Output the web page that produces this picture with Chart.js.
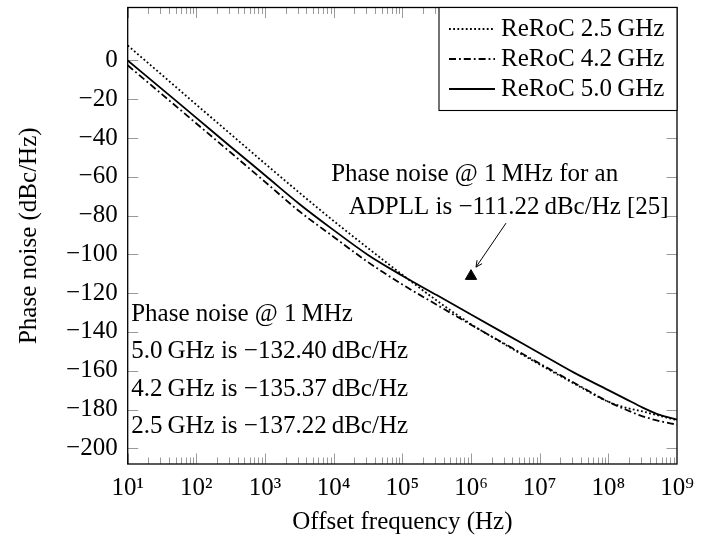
<!DOCTYPE html>
<html><head><meta charset="utf-8">
<script src="https://cdn.jsdelivr.net/npm/chart.js@4"></script>
<style>html,body{margin:0;padding:0;background:#fff}canvas{display:block}</style>
</head><body>
<canvas id="c" width="726" height="535"></canvas>
<script>
// ---- data ----
const freqHz = [10, 31.62, 100, 316.2, 1000, 3162, 10000, 31623, 100000, 316228, 1000000, 3162278, 10000000, 31622777, 100000000, 177827941, 316227766, 562341325, 1000000000];
const reroc25 = [7.7, -7.5, -22.8, -38.0, -53.2, -68.2, -82.8, -96.8, -110.5, -123.8, -136.0, -146.6, -156.8, -166.6, -176.0, -179.0, -181.0, -183.3, -185.5];
const reroc42 = [-2.5, -17.5, -32.5, -47.5, -62.6, -77.8, -91.0, -104.0, -115.5, -126.0, -136.3, -146.3, -156.3, -166.2, -176.0, -180.0, -183.5, -186.0, -187.8];
const reroc50 = [0, -14.8, -29.6, -44.5, -59.2, -74.0, -87.5, -100.3, -111.0, -121.0, -131.0, -141.0, -151.0, -161.0, -170.0, -174.5, -179.0, -182.8, -185.2];
const adpllFreq = [1000000];
const adpllNoise = [-111.22];
const seriesLabels = ['ReRoC 2.5\u2009GHz', 'ReRoC 4.2\u2009GHz', 'ReRoC 5.0\u2009GHz'];
const xTickValues = [10, 100, 1000, 10000, 100000, 1000000, 10000000, 100000000, 1000000000];
const xTickLabels = ['10\u00B9', '10\u00B2', '10\u00B3', '10\u2074', '10\u2075', '10\u2076', '10\u2077', '10\u2078', '10\u2079'];
const yTickValues = [-200, -180, -160, -140, -120, -100, -80, -60, -40, -20, 0];
const noteLeft = ['Phase noise @ 1\u2009MHz', '5.0\u2009GHz is \u2212132.40\u2009dBc/Hz', '4.2\u2009GHz is \u2212135.37\u2009dBc/Hz', '2.5\u2009GHz is \u2212137.22\u2009dBc/Hz'];
const noteAdpll = ['Phase noise @ 1\u2009MHz for an', 'ADPLL is \u2212111.22\u2009dBc/Hz [25]'];

const F = "'Liberation Serif', 'Times New Roman', serif";
const toPts = (ys) => freqHz.map((f, i) => ({x: f, y: ys[i]}));

const decor = {
  id: 'decor',
  beforeDatasetsDraw(chart) {
    const {ctx, chartArea: a, scales: {x, y}} = chart;
    ctx.save();
    ctx.strokeStyle = '#9a9a9a';
    ctx.lineWidth = 1;
    ctx.beginPath();
    for (let k = 1; k < 9; k++) {
      for (let m = 1; m <= 9; m++) {
        const v = m * Math.pow(10, k);
        const px = Math.round(x.getPixelForValue(v)) + 0.5;
        const len = m === 1 ? 10.5 : 6.5;
        ctx.moveTo(px, a.bottom); ctx.lineTo(px, a.bottom - len);
        ctx.moveTo(px, a.top); ctx.lineTo(px, a.top + len);
      }
    }
    yTickValues.forEach(v => {
      const py = Math.round(y.getPixelForValue(v)) + 0.5;
      ctx.moveTo(a.left, py); ctx.lineTo(a.left + 10.5, py);
      ctx.moveTo(a.right, py); ctx.lineTo(a.right - 10.5, py);
    });
    ctx.stroke();
    ctx.restore();
  },
  afterDatasetsDraw(chart) {
    const {ctx, chartArea: a, scales: {x, y}} = chart;
    ctx.save();
    // frame
    ctx.strokeStyle = '#000';
    ctx.lineWidth = 1.3;
    ctx.strokeRect(a.left, a.top, a.right - a.left, a.bottom - a.top);
    // texts
    ctx.fillStyle = '#000';
    ctx.font = '25px ' + F;
    ctx.textBaseline = 'alphabetic';
    ctx.textAlign = 'left';
    noteLeft.forEach((t, i) => ctx.fillText(t, a.left + 3.5, a.top + 313.7 + i * 37.2));
    ctx.textAlign = 'center';
    ctx.fillText(noteAdpll[0], a.left + 347, a.top + 173);
    ctx.fillText(noteAdpll[1], a.left + 381, a.top + 206);
    // arrow to ADPLL marker
    const tx = x.getPixelForValue(adpllFreq[0]);
    const ty = y.getPixelForValue(adpllNoise[0]);
    const x0 = tx + 35, y0 = ty - 53, x1 = tx + 5, y1 = ty - 9;
    ctx.lineWidth = 1;
    ctx.beginPath();
    ctx.moveTo(x0, y0); ctx.lineTo(x1, y1);
    const ang = Math.atan2(y1 - y0, x1 - x0);
    [0.45, -0.45].forEach(d => {
      ctx.moveTo(x1, y1);
      ctx.lineTo(x1 - 7 * Math.cos(ang + d), y1 - 7 * Math.sin(ang + d));
    });
    ctx.stroke();
    // legend
    const lw = 238, lh = 103;
    const lx = a.right - lw, ly = a.top;
    ctx.fillStyle = '#fff';
    ctx.fillRect(lx, ly, lw, lh);
    ctx.strokeStyle = '#000';
    ctx.lineWidth = 1.1;
    ctx.strokeRect(lx, ly, lw, lh);
    ctx.fillStyle = '#000';
    ctx.textAlign = 'left';
    chart.data.datasets.slice(0, 3).forEach((ds, i) => {
      const cy = ly + 21.5 + i * 30;
      ctx.save();
      ctx.lineWidth = ds.borderWidth;
      ctx.setLineDash(ds.borderDash || []);
      ctx.beginPath();
      ctx.moveTo(lx + 10, cy); ctx.lineTo(lx + 56, cy);
      ctx.stroke();
      ctx.restore();
      ctx.fillText(ds.label, lx + 62, cy + 6.5);
    });
    ctx.restore();
  }
};

new Chart(document.getElementById('c'), {
  type: 'line',
  data: {
    datasets: [
      {label: seriesLabels[0], data: toPts(reroc25), borderColor: '#000', borderWidth: 1.8, borderDash: [1.8, 2.4], pointRadius: 0, fill: false, cubicInterpolationMode: 'monotone'},
      {label: seriesLabels[1], data: toPts(reroc42), borderColor: '#000', borderWidth: 1.8, borderDash: [7, 3, 1.8, 3], pointRadius: 0, fill: false, cubicInterpolationMode: 'monotone'},
      {label: seriesLabels[2], data: toPts(reroc50), borderColor: '#000', borderWidth: 1.8, pointRadius: 0, fill: false, cubicInterpolationMode: 'monotone'},
      {type: 'scatter', label: 'ADPLL [25]', data: adpllFreq.map((f, i) => ({x: f, y: adpllNoise[i]})), pointStyle: 'triangle', pointRadius: 6.5, backgroundColor: '#000', borderColor: '#000', showLine: false}
    ]
  },
  options: {
    responsive: false,
    animation: false,
    devicePixelRatio: 1,
    layout: {padding: {left: 0, right: 49, top: 7, bottom: 0}},
    plugins: {legend: {display: false}, tooltip: {enabled: false}},
    scales: {
      x: {
        type: 'logarithmic', position: 'bottom', min: 10, max: 1000000000,
        afterBuildTicks: s => { s.ticks = xTickValues.map(v => ({value: v})); },
        afterFit: s => { s.height = 71; s.paddingLeft = 0; s.paddingRight = 0; },
        grid: {display: false, drawTicks: false},
        border: {display: false},
        ticks: {autoSkip: false, maxRotation: 0, minRotation: 0, padding: 9, color: '#000', font: {family: F, size: 25},
                callback: (v, i) => xTickLabels[i]},
        title: {display: true, text: 'Offset frequency (Hz)', color: '#000', font: {family: F, size: 25, lineHeight: 1}, padding: {top: 0, bottom: 0}}
      },
      y: {
        type: 'linear', position: 'left', min: -208.1, max: 27.3,
        afterBuildTicks: s => { s.ticks = yTickValues.map(v => ({value: v})); },
        afterFit: s => { s.width = 127.7; s.paddingTop = 0; s.paddingBottom = 0; },
        grid: {display: false, drawTicks: false},
        border: {display: false},
        ticks: {autoSkip: false, padding: 10, color: '#000', font: {family: F, size: 25},
                callback: v => (v < 0 ? '\u2212' + Math.abs(v) : String(v))},
        title: {display: true, text: 'Phase noise (dBc/Hz)', color: '#000', font: {family: F, size: 25, lineHeight: 1}, padding: {top: 17, bottom: 0}}
      }
    }
  },
  plugins: [decor]
});
</script>
</body></html>
